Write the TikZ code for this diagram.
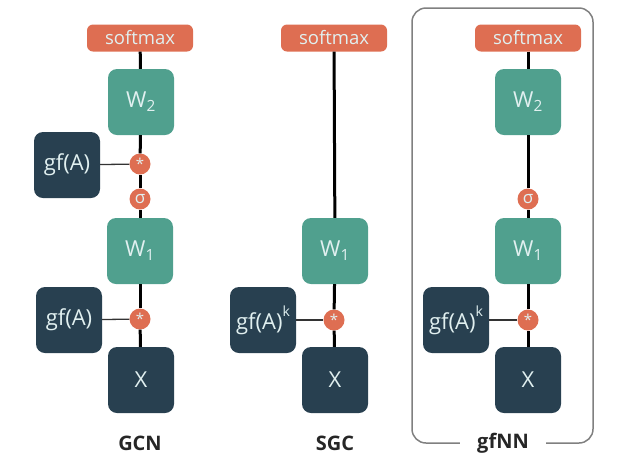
\documentclass[tikz,border=0pt]{standalone}
\usepackage{fontspec}
\setmainfont{Open Sans}
\usetikzlibrary{positioning}
\definecolor{smcolor}  {RGB}{222, 110, 82}
\definecolor{wcolor}   {RGB}{80, 160, 142}
\definecolor{gfcolor}  {RGB}{40, 64, 80}
\definecolor{txtcolor} {RGB}{225, 240, 240}
\newcommand{\gfk}{gf(A)\raisebox{1.1ex}{\fontsize{14}{14}\selectfont k}}
\newcommand{\mulsign}{\raisebox{-0.35ex}{\fontsize{15}{15}\selectfont *}}
\tikzset{
	smbox/.style={
		rectangle, rounded corners=6pt, fill=smcolor,
		minimum width=106pt, minimum height=27pt,
		text=txtcolor, font=\fontsize{18.5}{20}\selectfont
	},
	wbox/.style={
		rectangle, rounded corners=9pt, fill=wcolor,
		minimum width=66pt, minimum height=66pt, inner sep=1pt,
		text=txtcolor, font=\fontsize{22}{24}\selectfont
	},
	gfbox/.style={
		wbox, fill=gfcolor
	},
	opdot/.style={
		circle, fill=smcolor, minimum size=21pt, inner sep=0pt,
		text=txtcolor, font=\fontsize{17}{17}\selectfont
	},
	link/.style={line width=3pt, black},
	gflink/.style={line width=1.3pt, black!80},
	netlabel/.style={font=\fontsize{20}{22}\selectfont\bfseries, text=black!85}
}
\begin{document}
\begin{tikzpicture}[x=1pt, y=-1pt]
	\useasboundingbox (0,0) rectangle (620,467);

	%% GCN
	\node[smbox] (gcnsm) at (140,38) {softmax};
	\node[wbox] (gcnw2) at (141,102) {W\textsubscript{2}};
	\node[gfbox] (gcngf2) at (67,165) {gf(A)};
	\node[opdot] (gcnmul2) at (140,164) {\mulsign};
	\node[opdot] (gcnsig) at (140,199) {σ};
	\node[wbox] (gcnw1) at (140,251) {W\textsubscript{1}};
	\node[gfbox] (gcngf1) at (69,320) {gf(A)};
	\node[opdot] (gcnmul1) at (140,319) {\mulsign};
	\node[gfbox] (gcnx) at (141,380) {X};
	\node[netlabel] (gcnlabel) at (140,443) {GCN};

	\draw[link] (gcnsm) -- (gcnw2);
	\draw[link] (gcnw2) -- (gcnmul2);
	\draw[link] (gcnmul2) -- (gcnsig);
	\draw[link] (gcnsig) -- (gcnw1);
	\draw[link] (gcnw1) -- (gcnmul1);
	\draw[link] (gcnmul1) -- (gcnx);
	\draw[gflink] (gcngf2) -- (gcnmul2);
	\draw[gflink] (gcngf1) -- (gcnmul1);

	%% SGC
	\node[smbox] (sgcsm) at (334,38) {softmax};
	\node[wbox] (sgcw1) at (335,251) {W\textsubscript{1}};
	\node[gfbox] (sgcgf) at (263,320) {\gfk};
	\node[opdot] (sgcmul) at (334,320) {\mulsign};
	\node[gfbox] (sgcx) at (335,380) {X};
	\node[netlabel] (sgclabel) at (335,443) {SGC};

	\draw[link] (sgcsm) -- (sgcw1);
	\draw[link] (sgcw1) -- (sgcmul);
	\draw[link] (sgcmul) -- (sgcx);
	\draw[gflink] (sgcgf) -- (sgcmul);

	%% gfNN
	\draw[black!50, line width=1.5pt, rounded corners=14pt] (412,8) rectangle (593,443);
	\node[smbox] (gfnnsm) at (528,38) {softmax};
	\node[wbox] (gfnnw2) at (528,102) {W\textsubscript{2}};
	\node[opdot] (gfnnsig) at (528,199) {σ};
	\node[wbox] (gfnnw1) at (528,251) {W\textsubscript{1}};
	\node[gfbox] (gfnngf) at (456,320) {\gfk};
	\node[opdot] (gfnnmul) at (528,320) {\mulsign};
	\node[gfbox] (gfnnx) at (528,380) {X};
	\node[netlabel, fill=white, inner xsep=17pt] (gfnnlabel) at (503,443) {gfNN};

	\draw[link] (gfnnsm) -- (gfnnw2);
	\draw[link] (gfnnw2) -- (gfnnsig);
	\draw[link] (gfnnsig) -- (gfnnw1);
	\draw[link] (gfnnw1) -- (gfnnmul);
	\draw[link] (gfnnmul) -- (gfnnx);
	\draw[gflink] (gfnngf) -- (gfnnmul);
\end{tikzpicture}
\end{document}
